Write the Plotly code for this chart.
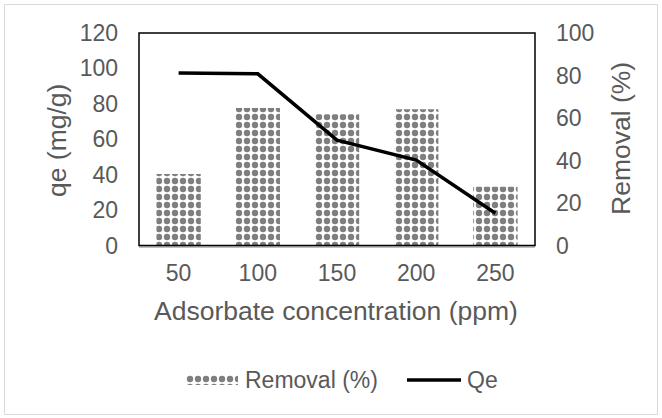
import plotly.graph_objects as go

categories = ["50", "100", "150", "200", "250"]
removal_bar = [40.4, 77.6, 74.1, 76.9, 33.2]     # read on left axis scale
qe_line = [81.2, 80.8, 49.6, 40.2, 15.2]         # read on right axis scale
left_ticks = [0, 20, 40, 60, 80, 100, 120]
right_ticks = [0, 20, 40, 60, 80, 100]

W, H = 662, 418
FONT = "Liberation Sans, Arial, sans-serif"
GREY = "#595959"

def fx(x):
    return x / W

def fy(y):
    return 1 - y / H

PX0, PX1, PY0, PY1 = 139, 535, 33, 245.5   # plot area in pixels

pattern = dict(shape=".", fgcolor="black", bgcolor="white", size=8, solidity=0.5)

fig = go.Figure()
fig.add_trace(go.Bar(
    x=categories, y=removal_bar, name="Removal (%)", xaxis="x", yaxis="y",
    marker=dict(color="white", line=dict(width=0), pattern=pattern),
    showlegend=False,
))
fig.add_trace(go.Scatter(
    x=categories, y=qe_line, name="Qe", mode="lines", xaxis="x", yaxis="y2",
    line=dict(color="black", width=3.5), showlegend=False,
))
# legend swatch for the patterned bars
fig.add_trace(go.Bar(
    x=[0], y=[1], width=[1], xaxis="x3", yaxis="y3", hoverinfo="skip",
    marker=dict(color="white", line=dict(width=0), pattern=pattern),
    showlegend=False,
))

fig.update_layout(
    width=W, height=H,
    margin=dict(l=0, r=0, t=0, b=0, pad=0, autoexpand=False),
    paper_bgcolor="white", plot_bgcolor="white",
    font=dict(family=FONT, size=23, color=GREY),
    bargap=0.44,
    showlegend=False,
    xaxis=dict(domain=[fx(PX0), fx(PX1)], showgrid=False, showline=True, automargin=False,
               linecolor="#bfbfbf", linewidth=1.5, ticks="",
               tickfont=dict(size=23, color=GREY), ticklabelstandoff=6),
    yaxis=dict(domain=[fy(PY1), fy(PY0)], range=[0, 120], tickvals=left_ticks,
               automargin=False,
               showgrid=False, zeroline=False, showline=False, ticks="",
               tickfont=dict(size=23, color=GREY), ticklabelstandoff=20),
    yaxis2=dict(range=[0, 100], tickvals=right_ticks, overlaying="y", side="right",
                anchor="x", automargin=False,
                showgrid=False, zeroline=False, showline=False, ticks="",
                tickfont=dict(size=23, color=GREY), ticklabelstandoff=20),
    xaxis3=dict(domain=[fx(186), fx(238)], range=[-0.5, 0.5], visible=False,
                anchor="y3", fixedrange=True, automargin=False),
    yaxis3=dict(domain=[fy(385), fy(375)], range=[0, 1], visible=False,
                anchor="x3", fixedrange=True, automargin=False),
    shapes=[
        dict(type="rect", xref="paper", yref="paper",
             x0=fx(PX0), x1=fx(PX1), y0=fy(PY1), y1=fy(PY0),
             line=dict(color="black", width=1.5), layer="above"),
        dict(type="rect", xref="paper", yref="paper",
             x0=fx(4.5), x1=fx(657.5), y0=fy(414.5), y1=fy(4.5),
             line=dict(color="#d9d9d9", width=1)),
        dict(type="line", xref="paper", yref="paper",
             x0=fx(407), x1=fx(461), y0=fy(380), y1=fy(380),
             line=dict(color="black", width=3.5)),
    ],
    annotations=[
        dict(text="Adsorbate concentration (ppm)", xref="paper", yref="paper",
             x=fx(336), y=fy(311), showarrow=False, xanchor="center", yanchor="middle",
             font=dict(size=26.5, color=GREY)),
        dict(text="qe (mg/g)", xref="paper", yref="paper", textangle=-90,
             x=fx(57), y=fy(141), showarrow=False, xanchor="center", yanchor="middle",
             font=dict(size=26.5, color=GREY)),
        dict(text="Removal (%)", xref="paper", yref="paper", textangle=-90,
             x=fx(621), y=fy(139), showarrow=False, xanchor="center", yanchor="middle",
             font=dict(size=26.5, color=GREY)),
        dict(text="Removal (%)", xref="paper", yref="paper",
             x=fx(243), y=fy(380), showarrow=False, xanchor="left", yanchor="middle",
             font=dict(size=23, color=GREY)),
        dict(text="Qe", xref="paper", yref="paper",
             x=fx(465), y=fy(380), showarrow=False, xanchor="left", yanchor="middle",
             font=dict(size=23, color=GREY)),
    ],
)

fig.write_html("out.html")
